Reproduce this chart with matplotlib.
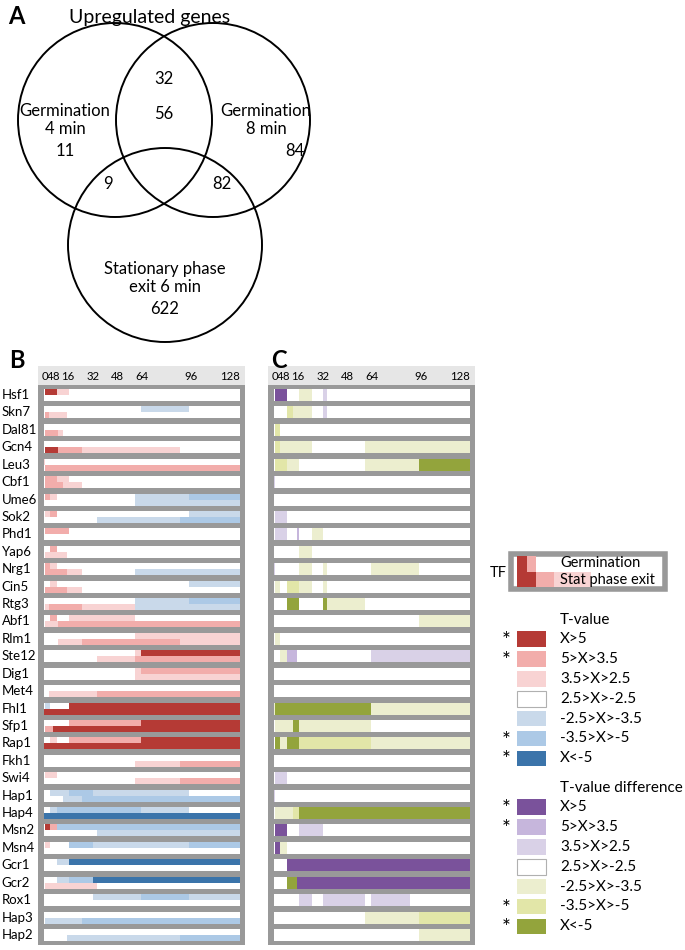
import re
import matplotlib
matplotlib.use('Agg')
import matplotlib.pyplot as plt
from matplotlib.patches import Rectangle, Circle
from matplotlib.transforms import blended_transform_factory

plt.rcParams['font.family'] = ['Lato', 'DejaVu Sans']

# ---------------- data ----------------
venn_title = 'Upregulated genes'
venn_labels = ['Germination\n4 min', 'Germination\n8 min', 'Stationary phase\nexit 6 min']
venn_only = [11, 84, 622]            # 4 min only, 8 min only, stationary only
venn_pairs = [32, 9, 82]             # 4&8, 4&stat, 8&stat
venn_all = 56

time_ticks = [0, 4, 8, 16, 32, 48, 64, 96, 128]

tfs = ['Hsf1', 'Skn7', 'Dal81', 'Gcn4', 'Leu3', 'Cbf1', 'Ume6', 'Sok2', 'Phd1',
       'Yap6', 'Nrg1', 'Cin5', 'Rtg3', 'Abf1', 'Rlm1', 'Ste12', 'Dig1', 'Met4',
       'Fhl1', 'Sfp1', 'Rap1', 'Fkh1', 'Swi4', 'Hap1', 'Hap4', 'Msn2', 'Msn4',
       'Gcr1', 'Gcr2', 'Rox1', 'Hap3', 'Hap2']

# segments: <level code><start>-<end> (minutes)
germination = {
    'Hsf1': 'R0.7-8.7 p8.7-16.6', 'Skn7': 'b63.3-95', 'Dal81': '', 'Gcn4': '',
    'Leu3': 'p0-0.7', 'Cbf1': 'P0.7-8.7 p8.7-16.6',
    'Ume6': 'P0.7-4.3 p4.3-8.7 b59.8-95 B95-128', 'Sok2': 'p0.7-4.3 P4.3-8.7 b95-128',
    'Phd1': 'P0.7-16.6', 'Yap6': 'P4.3-8.7', 'Nrg1': 'P0.7-4.3 p4.3-8.7',
    'Cin5': 'p4.3-8.7 b95-128', 'Rtg3': 'b59.8-95 B95-128', 'Abf1': 'P4.3-8.7 p16.6-59.8',
    'Rlm1': 'p59.8-128', 'Ste12': 'p59.8-63.3 R63.3-128', 'Dig1': 'p59.8-63.3 P63.3-128',
    'Met4': '', 'Fhl1': 'b0.7-4.3 R16.6-128', 'Sfp1': 'P16.6-63.3 R63.3-128',
    'Rap1': 'p4.3-8.7 P16.6-63.3 R63.3-128', 'Fkh1': '', 'Swi4': 'p0.7-8.7',
    'Hap1': 'b4.3-16.6 B16.6-32 b32-95', 'Hap4': 'b4.3-8.7 B8.7-63.3 b63.3-95',
    'Msn2': 'R0.7-4.3 P4.3-8.7 B8.7-128', 'Msn4': 'p0.7-4.3 B16.6-32 b32-95 B95-128',
    'Gcr1': 'b8.7-16.6 D16.6-128', 'Gcr2': 'b8.7-16.6 B16.6-32 D32-128',
    'Rox1': 'b32-63.3 B63.3-95 b95-128', 'Hap3': '', 'Hap2': '',
}
stat_exit = {
    'Hsf1': '', 'Skn7': 'P0.7-3.7 p3.7-15.6', 'Dal81': 'P0.7-9.5 p9.5-12.7',
    'Gcn4': 'R0.7-9.5 P9.5-25 p25-89', 'Leu3': 'P0.7-128', 'Cbf1': 'P0.7-12.7 p12.7-25',
    'Ume6': 'b59.8-128', 'Sok2': 'b34.8-89 B89-128', 'Phd1': '', 'Yap6': 'p0.7-15.6',
    'Nrg1': 'P0.7-15.6 p15.6-25 b59.8-128', 'Cin5': 'P0.7-15.6 p15.6-25',
    'Rtg3': 'p0.7-3.7 P3.7-25 p25-59.8 b59.8-128', 'Abf1': 'p0.7-9.5 P9.5-128',
    'Rlm1': 'p9.5-25 P25-89 p89-128', 'Ste12': 'p34.8-59.8 P59.8-128', 'Dig1': 'p59.8-128',
    'Met4': 'p3.7-34.8 P34.8-128', 'Fhl1': 'R0-128', 'Sfp1': 'P0.7-6.3 R6.3-128',
    'Rap1': 'R0-128', 'Fkh1': 'p59.8-89 P89-128', 'Swi4': 'p59.8-89 P89-128',
    'Hap1': 'b12.7-25 B25-128', 'Hap4': 'D0-128', 'Msn2': 'b34.8-128',
    'Msn4': '', 'Gcr1': '', 'Gcr2': 'p0.7-34.8', 'Rox1': '',
    'Hap3': 'b0.7-25 B25-128', 'Hap2': 'b15.6-89 B89-128',
}
difference = {
    'Hsf1': 'V0.7-8.7 y16.6-25 l32-34.8', 'Skn7': 'Y8.7-12.7 y12.7-25 l32-34.8',
    'Dal81': 'Y0.7-4.3', 'Gcn4': 'Y0.7-4.3 y4.3-25 y59.8-128',
    'Leu3': 'Y0.7-8.7 y8.7-16.6 y59.8-95 G95-128', 'Cbf1': 'l0-0.7', 'Ume6': '',
    'Sok2': 'l0.7-8.7', 'Phd1': 'l0.7-8.7 L15.5-16.6 y25-32', 'Yap6': 'y16.6-25',
    'Nrg1': 'l0-0.7 y16.6-25 y32-34.8 y63.3-95',
    'Cin5': 'y0.7-4.3 Y8.7-16.6 y16.6-25 y32-34.8',
    'Rtg3': 'G8.7-16.6 G32-34.8 y34.8-59.8', 'Abf1': 'y95-128', 'Rlm1': 'y0.7-4.3',
    'Ste12': 'y4.3-8.7 L8.7-15.5 l63.3-128', 'Dig1': '', 'Met4': '',
    'Fhl1': 'y0-0.7 G0.7-63.3 y63.3-128', 'Sfp1': 'y0.7-12.7 G12.7-16.6 y16.6-63.3',
    'Rap1': 'G0.7-4.3 y4.3-8.7 G8.7-16.6 Y16.6-63.3 y63.3-128', 'Fkh1': '',
    'Swi4': 'l0.7-8.7', 'Hap1': 'l0-0.7', 'Hap4': 'y0.7-12.7 Y12.7-16.6 G16.6-128',
    'Msn2': 'V0.7-8.7 l16.6-32', 'Msn4': 'V0.7-4.3 y4.3-8.7', 'Gcr1': 'V8.7-128',
    'Gcr2': 'G8.7-15.5 V15.5-128', 'Rox1': 'l16.6-25 l32-59.8 l63.3-89',
    'Hap3': 'y59.8-95 Y95-128', 'Hap2': 'y95-128',
}

tvalue_codes = ['R', 'P', 'p', 'w', 'b', 'B', 'D']
diff_codes = ['V', 'L', 'l', 'w', 'y', 'Y', 'G']
legend_labels = ['X>5', '5>X>3.5', '3.5>X>2.5', '2.5>X>-2.5', '-2.5>X>-3.5', '-3.5>X>-5', 'X<-5']
legend_star = [True, True, False, False, False, True, True]

# ---------------- style ----------------
colors = {
    'R': '#b53a35', 'P': '#f2adab', 'p': '#f8d3d3', 'w': '#ffffff',
    'b': '#c9d9ea', 'B': '#acc9e6', 'D': '#3b74aa',
    'V': '#7a529b', 'L': '#c6b6dc', 'l': '#d9d1e7',
    'y': '#eceecf', 'Y': '#e2e6a8', 'G': '#93a43c',
}
GRAY = '#999999'
HEAD = '#e6e6e6'
W, H = 685, 950


def parse(s):
    out = []
    for code, a, b in re.findall(r'([A-Za-z])([\d.]+)-([\d.]+)', s):
        out.append((code, float(a), float(b)))
    return out


fig = plt.figure(figsize=(W / 100, H / 100), dpi=100)

# overlay axes in pixel coordinates
ov = fig.add_axes([0, 0, 1, 1])
ov.set_xlim(0, W)
ov.set_ylim(H, 0)
ov.axis('off')

# ---------------- panel A: Venn ----------------
ov.text(16, 17, 'A', fontsize=17, fontweight='bold', ha='center', va='center')
ov.text(150, 17, venn_title, fontsize=14, ha='center', va='center')
centers = [(115, 120), (213, 120), (165, 245)]
R_C = 97
for c in centers:
    ov.add_patch(Circle(c, R_C, fill=False, ec='black', lw=1.4))
fs_v = 12
ov.text(65, 120, venn_labels[0], fontsize=fs_v, ha='center', va='center', linespacing=1.2)
ov.text(65, 151, str(venn_only[0]), fontsize=fs_v, ha='center', va='center')
ov.text(266, 120, venn_labels[1], fontsize=fs_v, ha='center', va='center', linespacing=1.2)
ov.text(295, 151, str(venn_only[1]), fontsize=fs_v, ha='center', va='center')
ov.text(165, 278, venn_labels[2], fontsize=fs_v, ha='center', va='center', linespacing=1.2)
ov.text(165, 309, str(venn_only[2]), fontsize=fs_v, ha='center', va='center')
ov.text(164, 79, str(venn_pairs[0]), fontsize=fs_v, ha='center', va='center')
ov.text(108, 184, str(venn_pairs[1]), fontsize=fs_v, ha='center', va='center')
ov.text(222, 184, str(venn_pairs[2]), fontsize=fs_v, ha='center', va='center')
ov.text(164, 114, str(venn_all), fontsize=fs_v, ha='center', va='center')

# ---------------- heatmaps ----------------
XL = (-3.6, 131.3)
NROW = len(tfs)
Y_TOP, Y_BOT = 385, 945
HEAD_TOP = 366


def make_panel(x0, split):
    ax = fig.add_axes([x0 / W, 1 - Y_BOT / H, 207 / W, (Y_BOT - Y_TOP) / H])
    ax.set_xlim(*XL)
    ax.set_ylim(NROW + 0.15, 0)
    ax.set_facecolor(GRAY)
    for s in ax.spines.values():
        s.set_visible(False)
    ax.set_xticks([])
    ax.set_yticks([])
    for i, tf in enumerate(tfs):
        y0, y1 = i + 0.23, i + 0.92
        ym = (y0 + y1) / 2
        ax.add_patch(Rectangle((0, y0), 128, y1 - y0, fc='white', ec='none'))
        if split:
            for code, a, b in parse(germination[tf]):
                ax.add_patch(Rectangle((a, y0), b - a, ym - y0, fc=colors[code], ec='none'))
            for code, a, b in parse(stat_exit[tf]):
                ax.add_patch(Rectangle((a, ym), b - a, y1 - ym, fc=colors[code], ec='none'))
        else:
            for code, a, b in parse(difference[tf]):
                ax.add_patch(Rectangle((a, y0), b - a, y1 - y0, fc=colors[code], ec='none'))
    hd = fig.add_axes([x0 / W, 1 - Y_TOP / H, 207 / W, (Y_TOP - HEAD_TOP) / H])
    hd.set_xlim(*XL)
    hd.set_ylim(0, 1)
    hd.set_facecolor(HEAD)
    for s in hd.spines.values():
        s.set_visible(False)
    hd.set_xticks([])
    hd.set_yticks([])
    for t in time_ticks:
        hd.text(t + (0.6 if t == 0 else 0), 0.45, str(t), fontsize=8.2,
                ha='right' if t == time_ticks[-1] else 'center', va='center')
    return ax


axB = make_panel(38, True)
axC = make_panel(268, False)

tr = blended_transform_factory(fig.transFigure, axB.transData)
for i, tf in enumerate(tfs):
    axB.text(1.5 / W, i + 0.575, tf, transform=tr, fontsize=9.5, ha='left', va='center')

# ---------------- legend ----------------
ov.add_patch(Rectangle((511, 553.5), 154, 35.5, fc='white', ec=GRAY, lw=4))
ov.add_patch(Rectangle((517.3, 555.5), 9.4, 16, fc=colors['R'], ec='none'))
ov.add_patch(Rectangle((526.7, 555.5), 9.3, 16, fc=colors['P'], ec='none'))
ov.add_patch(Rectangle((517.3, 571.5), 18.7, 15.5, fc=colors['R'], ec='none'))
ov.add_patch(Rectangle((536, 571.5), 18, 15.5, fc=colors['P'], ec='none'))
ov.add_patch(Rectangle((554, 571.5), 36.7, 15.5, fc=colors['p'], ec='none'))
ov.text(507, 573, 'TF', fontsize=10.5, ha='right', va='center')
ov.text(560, 563, 'Germination', fontsize=10.5, ha='left', va='center')
ov.text(560, 580, 'Stat phase exit', fontsize=10.5, ha='left', va='center')


def legend_block(y_title, codes, title):
    ov.text(560, y_title, title, fontsize=11, ha='left', va='center')
    for k, (code, lab, star) in enumerate(zip(codes, legend_labels, legend_star)):
        yc = y_title + 19 + 19.9 * k
        ec = '#b0b0b0' if code == 'w' else 'none'
        ov.add_patch(Rectangle((517.5, yc - 7.8), 29, 15.6, fc=colors[code], ec=ec, lw=0.8))
        ov.text(560, yc, lab, fontsize=11, ha='left', va='center')
        if star:
            ov.text(506, yc + 2, '*', fontsize=15, ha='center', va='center')


legend_block(620, tvalue_codes, 'T-value')
legend_block(788, diff_codes, 'T-value difference')

# panel letters on top of everything
top = fig.add_axes([0, 0, 1, 1])
top.set_xlim(0, W)
top.set_ylim(H, 0)
top.axis('off')
top.text(17, 360, 'B', fontsize=17, fontweight='bold', ha='center', va='center')
top.text(279, 360, 'C', fontsize=17, fontweight='bold', ha='center', va='center')

fig.savefig('out.png', dpi=100)
